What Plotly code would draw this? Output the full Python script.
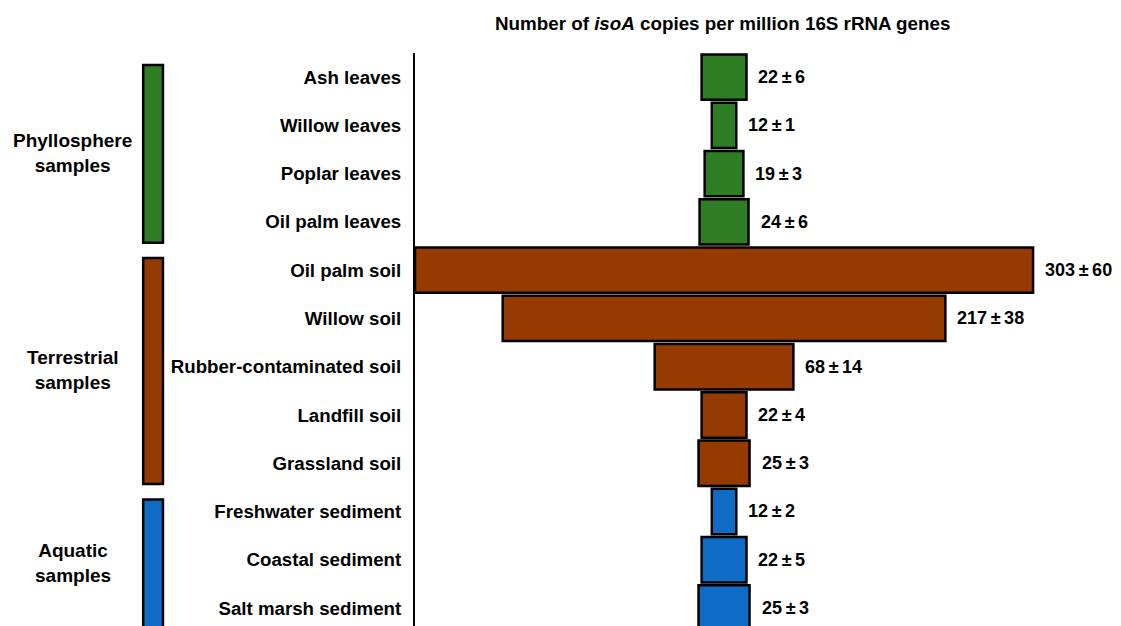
import plotly.graph_objects as go

categories = ["Ash leaves", "Willow leaves", "Poplar leaves", "Oil palm leaves",
              "Oil palm soil", "Willow soil", "Rubber-contaminated soil", "Landfill soil",
              "Grassland soil", "Freshwater sediment", "Coastal sediment", "Salt marsh sediment"]
values = [22, 12, 19, 24, 303, 217, 68, 22, 25, 12, 22, 25]
errors = [6, 1, 3, 6, 60, 38, 14, 4, 3, 2, 5, 3]
groups = ["Phyllosphere", "Phyllosphere", "Phyllosphere", "Phyllosphere",
          "Terrestrial", "Terrestrial", "Terrestrial", "Terrestrial", "Terrestrial",
          "Aquatic", "Aquatic", "Aquatic"]
group_names = ["Phyllosphere", "Terrestrial", "Aquatic"]
group_labels = ["Phyllosphere<br>samples", "Terrestrial<br>samples", "Aquatic<br>samples"]
group_colors = {"Phyllosphere": "#2e7d24", "Terrestrial": "#953a00", "Aquatic": "#0e6cc6"}

FONT = "Liberation Sans, Arial, sans-serif"

fig = go.Figure()
fig.add_trace(go.Bar(
    y=categories,
    x=values,
    base=[-v / 2 for v in values],
    orientation="h",
    marker=dict(color=[group_colors[g] for g in groups],
                line=dict(color="black", width=2.5)),
    hoverinfo="skip",
))

# value labels
for c, v, e in zip(categories, values, errors):
    fig.add_annotation(x=v / 2, y=c, xref="x", yref="y",
                       text=f"<b>{v}\u2009±\u2009{e}</b>",
                       showarrow=False, xanchor="left", xshift=10,
                       font=dict(family=FONT, size=18, color="black"))

# group bars and labels
for gname, glabel in zip(group_names, group_labels):
    idx = [i for i, g in enumerate(groups) if g == gname]
    first, last = idx[0], idx[-1]
    y0 = first - 0.25
    y1 = last + 0.43 if last < len(categories) - 1 else last + 1.0
    fig.add_shape(type="rect", xref="paper", yref="y", x0=-0.385, x1=-0.357,
                  y0=y0, y1=y1, fillcolor=group_colors[gname],
                  line=dict(color="black", width=2.5), layer="above")
    fig.add_annotation(xref="paper", yref="y", x=-0.485, y=(first + last) / 2,
                       yshift=-3, text=f"<b>{glabel}</b>", showarrow=False,
                       xanchor="center", align="center",
                       font=dict(family=FONT, size=19, color="black"))

fig.add_annotation(xref="paper", yref="paper", x=(722 - 415) / 706, y=1, yshift=30,
                   text="<b>Number of <i>isoA</i> copies per million 16S rRNA genes</b>",
                   showarrow=False, xanchor="center", yanchor="middle",
                   font=dict(family=FONT, size=18.8, color="black"))

fig.update_layout(
    width=1113, height=618,
    margin=dict(l=407, r=0, t=45, b=0),
    plot_bgcolor="white", paper_bgcolor="white",
    showlegend=False,
    bargap=0.06,
    xaxis=dict(range=[-151.5, 194.6], visible=False, fixedrange=True),
    yaxis=dict(type="category", range=[11.373, -0.5], showline=True, linecolor="black",
               linewidth=2, ticks="", showgrid=False, zeroline=False,
               ticklabelstandoff=8,
               tickfont=dict(family=FONT, size=18.7, color="black", weight="bold")),
)

fig.write_html("out.html")
